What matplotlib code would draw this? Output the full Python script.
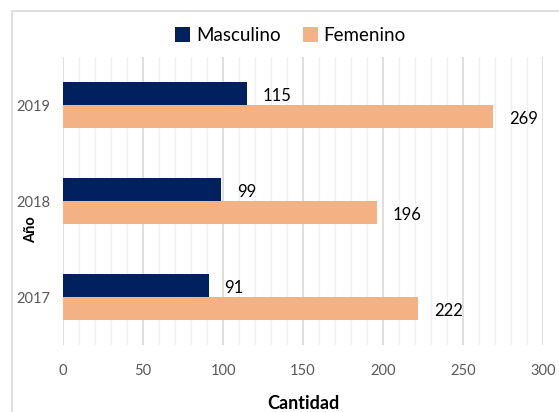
import numpy as np
import matplotlib.pyplot as plt
from matplotlib.patches import Rectangle

years = ['2017', '2018', '2019']
masculino = [91, 99, 115]
femenino = [222, 196, 269]

plt.rcParams['font.family'] = ['Lato', 'DejaVu Sans']

fig = plt.figure(figsize=(5.59, 4.12), dpi=100)
ax = fig.add_axes([0.1127, 0.1626, 0.8587, 0.699])

# outer chart frame
fig.patches.append(Rectangle((12 / 559, -0.05), 1.2, 1 - 11 / 412 + 0.05,
                             transform=fig.transFigure, fill=False,
                             edgecolor='#D9D9D9', lw=1.2))

y = np.arange(len(years))
h = 0.24
ax.barh(y + h / 2, masculino, height=h, color='#002060', label='Masculino', zorder=3)
ax.barh(y - h / 2, femenino, height=h, color='#F4B183', label='Femenino', zorder=3)

for i in range(len(years)):
    ax.text(masculino[i] + 10, y[i] + h / 2 - 0.03, str(masculino[i]),
            va='center', ha='left', fontsize=12, color='black')
    ax.text(femenino[i] + 10, y[i] - h / 2 - 0.03, str(femenino[i]),
            va='center', ha='left', fontsize=12, color='black')

ax.set_xlim(0, 300)
ax.set_ylim(-0.5, 2.5)
ax.set_xticks(np.arange(0, 301, 50))
ax.set_xticks(np.arange(0, 301, 10), minor=True)
ax.set_yticks(y)
ax.set_yticklabels(years)
ax.grid(axis='x', which='major', color='#D9D9D9', lw=1.2, zorder=0)
ax.grid(axis='x', which='minor', color='#F0F0F0', lw=1.0, zorder=0)
ax.tick_params(axis='both', which='both', length=0, labelsize=10.5, labelcolor='#595959')
ax.tick_params(axis='x', pad=14)
ax.tick_params(axis='y', pad=9)
for s in ax.spines.values():
    s.set_visible(False)

ax.set_xlabel('Cantidad', fontsize=13, fontweight='bold', labelpad=12)
ax.set_ylabel('Año', fontsize=10.5, fontweight='bold')
ax.yaxis.set_label_coords(-0.052, 0.40)

fig.legend(loc='upper center', bbox_to_anchor=(0.52, 0.975), ncol=2, frameon=False,
           fontsize=13.5, handlelength=0.8, handleheight=0.8, handletextpad=0.3,
           columnspacing=1.2)

fig.savefig('out.png', dpi=100)
